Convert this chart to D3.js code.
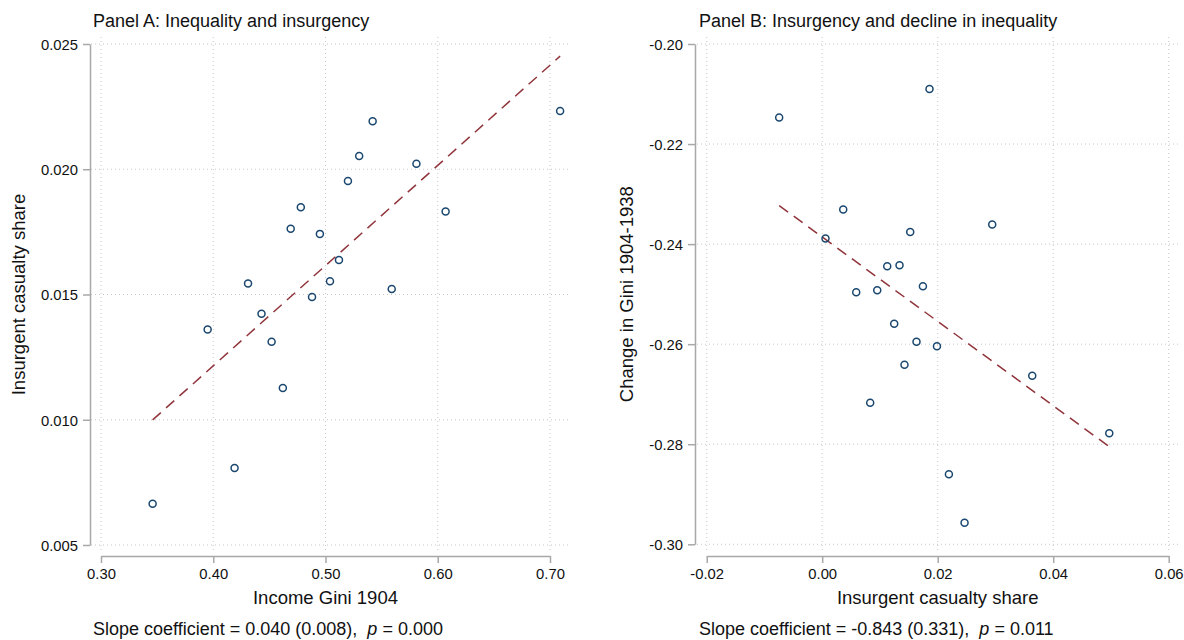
<!DOCTYPE html>
<html>
<head>
<meta charset="utf-8">
<script src="https://cdn.jsdelivr.net/npm/d3@7"></script>
<style>
  body { margin: 0; background: #fff; }
  svg text { font-family: "Liberation Sans", Arial, Helvetica, sans-serif; fill: #111; }
  .grid { stroke: #c8c8c8; stroke-width: 1; stroke-dasharray: 1 3; }
  .axis path, .axis line { stroke: #a8a8a8; stroke-width: 1.5; }
  .axis text { font-size: 14.8px; fill: #111; }
  .pt { fill: none; stroke: #1a476f; stroke-width: 1.5; }
  .fit { stroke: #90353b; stroke-width: 1.5; stroke-dasharray: 11 7; fill: none; }
</style>
</head>
<body>
<div id="graphic"></div>
<script>
(function(d3){

    // Panel A: income Gini 1904 vs insurgent casualty share
    let giniA = [0.346, 0.395, 0.419, 0.431, 0.443, 0.452, 0.462, 0.469, 0.478, 0.488,
                 0.495, 0.504, 0.512, 0.520, 0.530, 0.542, 0.559, 0.581, 0.607, 0.709];
    let casualtyA = [0.00665, 0.0136, 0.00807, 0.01544, 0.01423, 0.01311, 0.01127, 0.01762, 0.01848, 0.0149,
                     0.01742, 0.01553, 0.01638, 0.01953, 0.02053, 0.02192, 0.01522, 0.02022, 0.01831, 0.02233];

    // Panel B: insurgent casualty share vs change in Gini 1904-1938
    let casualtyB = [-0.00745, 0.01858, 0.00364, 0.00057, 0.01524, 0.01126, 0.01339, 0.00589, 0.00953, 0.01744,
                     0.01247, 0.01633, 0.01987, 0.01425, 0.00831, 0.02944, 0.03637, 0.02194, 0.02465, 0.04971];
    let giniChangeB = [-0.2147, -0.2090, -0.2331, -0.2389, -0.2376, -0.2444, -0.2442, -0.2496, -0.2492, -0.2484,
                       -0.2559, -0.2595, -0.2604, -0.2641, -0.2717, -0.2361, -0.2663, -0.2860, -0.2957, -0.2778];

    // Reported regression results
    let slopeA = 0.040, seA = 0.008, pA = 0.000;
    let slopeB = -0.843, seB = 0.331, pB = 0.011;

    // Tick labels
    let xTicksA = [0.30, 0.40, 0.50, 0.60, 0.70];
    let yTicksA = [0.005, 0.010, 0.015, 0.020, 0.025];
    let xTicksB = [-0.02, 0.00, 0.02, 0.04, 0.06];
    let yTicksB = [-0.30, -0.28, -0.26, -0.24, -0.22, -0.20];

    let width = 1184, height = 640;

    let svg = d3.select('#graphic')
                .append('svg')
                .attr('width', width)
                .attr('height', height);

    svg.append('rect').attr('width', width).attr('height', height).attr('fill', '#fff');

    function drawPanel(p)
    {
        let x = d3.scaleLinear().domain(d3.extent(p.xTicks)).range(p.xRange);
        let y = d3.scaleLinear().domain(d3.extent(p.yTicks)).range(p.yRange);
        let g = svg.append('g');

        // dotted grid, spanning the plot region
        g.selectAll('.hgrid').data(p.yTicks).enter().append('line')
            .attr('class', 'grid')
            .attr('x1', p.region[0]).attr('x2', p.region[1])
            .attr('y1', d => y(d)).attr('y2', d => y(d));
        g.selectAll('.vgrid').data(p.xTicks).enter().append('line')
            .attr('class', 'grid')
            .attr('x1', d => x(d)).attr('x2', d => x(d))
            .attr('y1', p.region[2]).attr('y2', p.region[3]);

        // axes
        g.append('g')
            .attr('class', 'axis')
            .attr('transform', `translate(${p.yAxisX},0)`)
            .call(d3.axisLeft(y).tickValues(p.yTicks).tickFormat(d => d.toFixed(p.yDigits))
                  .tickSize(7).tickSizeOuter(0).tickPadding(5))
            .call(a => a.selectAll('text').attr('dy', '0.36em'));

        g.append('g')
            .attr('class', 'axis')
            .attr('transform', `translate(0,${p.xAxisY})`)
            .call(d3.axisBottom(x).tickValues(p.xTicks).tickFormat(d => d.toFixed(2))
                  .tickSize(7).tickSizeOuter(0).tickPadding(5));

        // fitted line: reported slope through the sample means, over the data range
        let mx = d3.mean(p.xs), my = d3.mean(p.ys);
        let fitY = v => my + p.slope * (v - mx);
        g.append('path')
            .attr('class', 'fit')
            .attr('d', d3.line().x(d => x(d)).y(d => y(fitY(d)))(d3.extent(p.xs)));

        // scatter points
        g.selectAll('.pt').data(p.xs).enter().append('circle')
            .attr('class', 'pt')
            .attr('cx', d => x(d))
            .attr('cy', (d, i) => y(p.ys[i]))
            .attr('r', 3.5);

        // titles
        g.append('text')
            .attr('x', p.titleX).attr('y', 27)
            .style('font-size', '18px')
            .text(p.title);

        g.append('text')
            .attr('transform', `translate(${p.yTitleX},${(p.yRange[0] + p.yRange[1]) / 2}) rotate(-90)`)
            .attr('text-anchor', 'middle')
            .style('font-size', '18.5px')
            .text(p.yTitle);

        g.append('text')
            .attr('x', (p.xRange[0] + p.xRange[1]) / 2).attr('y', 604)
            .attr('text-anchor', 'middle')
            .style('font-size', '18.5px')
            .text(p.xTitle);

        let note = g.append('text')
            .attr('x', p.titleX).attr('y', 635)
            .style('font-size', '18px');
        note.append('tspan')
            .text(`Slope coefficient = ${p.slope.toFixed(3)} (${p.se.toFixed(3)}),\u00a0\u00a0`);
        note.append('tspan').style('font-style', 'italic').text('p');
        note.append('tspan').text(' = ' + p.pval.toFixed(3));
    }

    drawPanel({
        xs: giniA, ys: casualtyA,
        slope: slopeA, se: seA, pval: pA,
        xTicks: xTicksA, yTicks: yTicksA, yDigits: 3,
        xRange: [101, 550], yRange: [545, 44],
        region: [91, 569, 37, 551],
        yAxisX: 90, xAxisY: 556,
        title: 'Panel A: Inequality and insurgency', titleX: 93,
        yTitle: 'Insurgent casualty share', yTitleX: 25,
        xTitle: 'Income Gini 1904'
    });

    drawPanel({
        xs: casualtyB, ys: giniChangeB,
        slope: slopeB, se: seB, pval: pB,
        xTicks: xTicksB, yTicks: yTicksB, yDigits: 2,
        xRange: [706.7, 1168.7], yRange: [544.3, 44],
        region: [697, 1180, 37, 551],
        yAxisX: 695, xAxisY: 556,
        title: 'Panel B: Insurgency and decline in inequality', titleX: 699,
        yTitle: 'Change in Gini 1904-1938', yTitleX: 633,
        xTitle: 'Insurgent casualty share'
    });

})(window.d3);
</script>
</body>
</html>
